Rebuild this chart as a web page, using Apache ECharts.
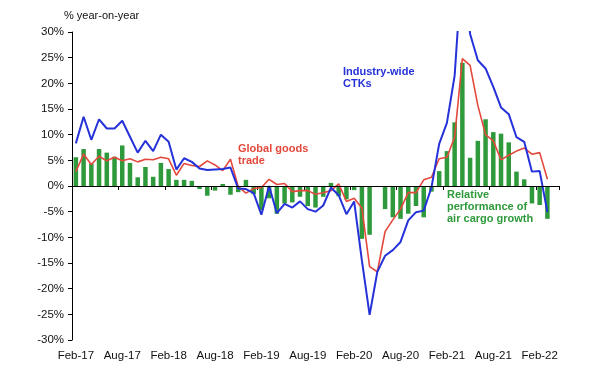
<!DOCTYPE html>
<html>
<head>
<meta charset="utf-8">
<script src="https://cdn.jsdelivr.net/npm/echarts@6/dist/echarts.min.js"></script>
<style>
html,body{margin:0;padding:0;background:#fff;}
#chart{width:597px;height:366px;}
</style>
</head>
<body>
<div id="chart"></div>
<script>
// Monthly categories (Feb-17 .. Apr-22; last month has no data)
var months = ['Feb-17','Mar-17','Apr-17','May-17','Jun-17','Jul-17','Aug-17','Sep-17','Oct-17','Nov-17','Dec-17','Jan-18',
  'Feb-18','Mar-18','Apr-18','May-18','Jun-18','Jul-18','Aug-18','Sep-18','Oct-18','Nov-18','Dec-18','Jan-19',
  'Feb-19','Mar-19','Apr-19','May-19','Jun-19','Jul-19','Aug-19','Sep-19','Oct-19','Nov-19','Dec-19','Jan-20',
  'Feb-20','Mar-20','Apr-20','May-20','Jun-20','Jul-20','Aug-20','Sep-20','Oct-20','Nov-20','Dec-20','Jan-21',
  'Feb-21','Mar-21','Apr-21','May-21','Jun-21','Jul-21','Aug-21','Sep-21','Oct-21','Nov-21','Dec-21','Jan-22',
  'Feb-22','Mar-22','Apr-22'];

// Industry-wide CTKs, % y-o-y
var ctk = [8.3, 13.5, 9.0, 13.0, 11.2, 11.2, 12.7, 9.6, 6.5, 8.8, 6.8, 10.0,
  8.6, 3.2, 5.4, 4.7, 3.4, 3.1, 3.2, 3.3, 3.6, -0.5, -0.6, -1.4,
  -5.6, 0.0, -5.3, -3.5, -4.2, -3.0, -4.5, -5.0, -3.8, -0.3, -1.8, -5.5,
  -3.0, -14.5, -25.1, -16.7, -13.6, -12.5, -10.9, -6.7, -5.1, -4.8, -0.3, 8.2,
  12.3, 21.5, 44.0, 29.6, 24.5, 22.9, 19.3, 15.3, 14.0, 9.5, 8.6, 2.8,
  2.9, -5.1];

// Global goods trade, % y-o-y
var goods = [2.8, 6.2, 4.2, 5.8, 4.9, 5.6, 4.9, 5.3, 4.7, 5.2, 5.1, 5.6,
  5.3, 2.1, 4.4, 4.0, 3.8, 4.9, 4.1, 3.0, 5.2, -0.1, -1.4, -0.5,
  -0.3, 1.3, 0.3, 0.5, -1.1, -0.9, -0.9, -1.6, -1.3, -0.9, 0.4, -3.0,
  -2.4, -4.3, -15.7, -16.7, -8.9, -6.6, -4.5, -1.3, -1.3, 1.2, 1.7, 5.3,
  5.6, 9.5, 24.8, 23.5, 15.7, 10.0, 8.8, 5.1, 6.0, 6.8, 7.4, 6.2,
  6.5, 1.3];

// Relative performance of air cargo growth, percentage points
var relative = [5.6, 7.2, 4.4, 7.2, 6.5, 5.7, 7.9, 4.5, 1.7, 3.7, 1.8, 4.5,
  3.3, 1.2, 1.2, 1.0, -0.6, -1.9, -0.9, 0.4, -1.7, -1.2, 1.2, -1.6,
  -4.7, -2.4, -5.4, -3.4, -3.2, -2.1, -3.9, -4.2, -2.1, 0.6, -2.0, -2.6,
  -0.8, -10.3, -9.5, -0.2, -4.5, -6.1, -6.4, -5.4, -3.9, -6.1, -1.1, 2.9,
  6.8, 12.4, 24.0, 5.5, 8.8, 13.0, 10.5, 10.2, 8.5, 2.8, 1.3, -3.4,
  -3.7, -6.4];

var yTicks = {min: -30, max: 30, step: 5};

var FONT = '"Liberation Sans", Arial, sans-serif';
var BLUE = '#2531d9', RED = '#e4483c', GREEN = '#2f9a3b';

var chart = echarts.init(document.getElementById('chart'), null, {renderer: 'canvas'});
chart.setOption({
  animation: false,
  backgroundColor: '#ffffff',
  grid: {left: 72, right: 38, top: 32, bottom: 26, containLabel: false},
  xAxis: {
    type: 'category',
    data: months,
    boundaryGap: true,
    axisLine: {show: true, lineStyle: {color: '#000', width: 1}},
    axisTick: {show: true, interval: 5, length: 4, inside: false, lineStyle: {color: '#000'}},
    axisLabel: {interval: 5, color: '#111', fontSize: 11.5, fontFamily: FONT, margin: 10},
    splitLine: {show: false}
  },
  yAxis: {
    type: 'value',
    min: yTicks.min, max: yTicks.max, interval: yTicks.step,
    axisLine: {show: true, lineStyle: {color: '#000', width: 1}},
    axisTick: {show: true, length: 4, lineStyle: {color: '#000'}},
    axisLabel: {formatter: '{value}%', color: '#111', fontSize: 11.5, fontFamily: FONT, margin: 8},
    splitLine: {show: false}
  },
  series: [
    {
      name: 'Relative performance of air cargo growth',
      type: 'bar',
      data: relative,
      barWidth: 4.5,
      itemStyle: {color: GREEN},
      z: 2,
      markLine: {
        silent: true, symbol: 'none', animation: false,
        label: {show: false},
        lineStyle: {color: '#000', width: 1, type: 'solid'},
        data: [{yAxis: 0}]
      }
    },
    {
      name: 'Global goods trade',
      type: 'line',
      data: goods,
      showSymbol: false, symbol: 'none',
      lineStyle: {color: RED, width: 1.6},
      z: 3
    },
    {
      name: 'Industry-wide CTKs',
      type: 'line',
      data: ctk,
      showSymbol: false, symbol: 'none',
      lineStyle: {color: BLUE, width: 2},
      z: 4
    }
  ],
  graphic: [
    {type: 'text', left: 64, top: 10, style: {text: '% year-on-year', fill: '#111', font: '11px ' + FONT}},
    {type: 'text', left: 343, top: 66, style: {text: 'Industry-wide\nCTKs', fill: BLUE, font: 'bold 11px ' + FONT, lineHeight: 12}},
    {type: 'text', left: 238, top: 143, style: {text: 'Global goods\ntrade', fill: RED, font: 'bold 11px ' + FONT, lineHeight: 12}},
    {type: 'text', left: 447, top: 189, style: {text: 'Relative\nperformance of\nair cargo growth', fill: GREEN, font: 'bold 11px ' + FONT, lineHeight: 12}}
  ]
});
</script>
</body>
</html>
